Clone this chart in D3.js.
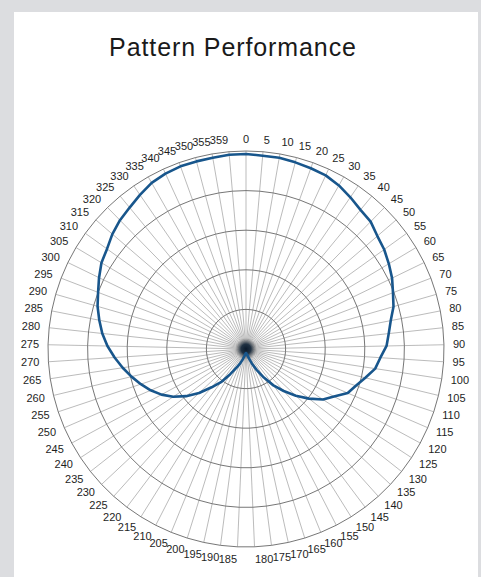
<!DOCTYPE html>
<html>
<head>
<meta charset="utf-8">
<script src="https://cdn.jsdelivr.net/npm/d3@7"></script>
<style>
  html, body { margin: 0; padding: 0; background: #dcdde0; }
  svg { display: block; }
</style>
</head>
<body>
<svg id="chart" width="481" height="577"></svg>
<script>
// category labels round the radar, as printed (note the odd 359 at the end)
var angleLabels = [0, 5, 10, 15, 20, 25, 30, 35, 40, 45, 50, 55, 60, 65, 70, 75, 80, 85,
  90, 95, 100, 105, 110, 115, 120, 125, 130, 135, 140, 145, 150, 155, 160, 165, 170, 175,
  180, 185, 190, 195, 200, 205, 210, 215, 220, 225, 230, 235, 240, 245, 250, 255, 260, 265,
  270, 275, 280, 285, 290, 295, 300, 305, 310, 315, 320, 325, 330, 335, 340, 345, 350, 355, 359]

// relative pattern value for each category
var pattern = [0.985, 0.98, 0.98, 0.975, 0.97, 0.965, 0.95, 0.93, 0.91, 0.90, 0.875, 0.86,
  0.84, 0.82, 0.795, 0.775, 0.745, 0.725, 0.71, 0.68, 0.66, 0.62, 0.585, 0.56,
  0.505, 0.465, 0.405, 0.345, 0.285, 0.23, 0.17, 0.12, 0.08, 0.05, 0.03, 0.025,
  0.02, 0.02, 0.025, 0.035, 0.055, 0.08, 0.105, 0.15, 0.21, 0.26, 0.325, 0.385,
  0.44, 0.485, 0.525, 0.56, 0.595, 0.63, 0.665, 0.70, 0.73, 0.755, 0.78, 0.80,
  0.825, 0.85, 0.865, 0.89, 0.91, 0.925, 0.945, 0.965, 0.975, 0.98, 0.98, 0.98, 0.985]

// value gridlines
var ringTicks = [0.2, 0.4, 0.6, 0.8, 1.0]

var width = 481, height = 577
var cx = 246, cy = 349, R = 198

var svg = d3.select('#chart')

// soft dark blob for the centre, where everything piles up
var grad = svg.append('defs').append('radialGradient').attr('id', 'blob')
grad.append('stop').attr('offset', '0%').attr('stop-color', '#0b1a2b').attr('stop-opacity', 1)
grad.append('stop').attr('offset', '45%').attr('stop-color', '#122538').attr('stop-opacity', 0.9)
grad.append('stop').attr('offset', '100%').attr('stop-color', '#555').attr('stop-opacity', 0)

// white sheet on the grey page
svg.append('rect')
  .attr('x', 14).attr('y', 12)
  .attr('width', 464).attr('height', height - 12)
  .attr('fill', '#ffffff')

svg.append('text')
  .attr('x', 233).attr('y', 56)
  .attr('text-anchor', 'middle')
  .attr('font-family', 'Liberation Sans, Arial, sans-serif')
  .attr('font-size', 25)
  .attr('letter-spacing', 0.9)
  .attr('fill', '#1a1a1a')
  .text('Pattern Performance')

var angle = d3.scaleBand()
  .domain(d3.range(angleLabels.length))
  .range([0, 2 * Math.PI])
  .paddingInner(0).paddingOuter(0)

var r = d3.scaleLinear().domain([0, 1]).range([0, R])

var g = svg.append('g').attr('transform', 'translate(' + cx + ',' + cy + ')')

// spokes
g.selectAll('line.spoke')
  .data(d3.range(angleLabels.length))
  .enter().append('line')
  .attr('class', 'spoke')
  .attr('x1', 0).attr('y1', 0)
  .attr('x2', function (d) { return r(1) * Math.sin(angle(d)) })
  .attr('y2', function (d) { return -r(1) * Math.cos(angle(d)) })
  .attr('stroke', '#9e9e9e')
  .attr('stroke-width', 0.7)

// ring polygons, one per value tick
var ringLine = d3.lineRadial()
  .angle(function (d) { return angle(d[0]) })
  .radius(function (d) { return r(d[1]) })
  .curve(d3.curveLinearClosed)

g.selectAll('path.ring')
  .data(ringTicks)
  .enter().append('path')
  .attr('class', 'ring')
  .attr('d', function (t) {
    return ringLine(d3.range(angleLabels.length).map(function (i) { return [i, t] }))
  })
  .attr('fill', 'none')
  .attr('stroke', '#666')
  .attr('stroke-width', 0.9)

// category labels
g.selectAll('text.lab')
  .data(angleLabels)
  .enter().append('text')
  .attr('class', 'lab')
  .attr('x', function (d, i) { return (R + 9) * Math.sin(angle(i)) })
  .attr('y', function (d, i) { return -(R + 9) * Math.cos(angle(i)) - Math.cos(angle(i)) * 3 })
  .attr('dy', '0.35em')
  .attr('text-anchor', function (d, i) {
    var s = Math.sin(angle(i))
    if (s > 0.02) return 'start'
    if (s < -0.02) return 'end'
    return 'middle'
  })
  .attr('font-family', 'Liberation Sans, Arial, sans-serif')
  .attr('font-size', 11)
  .attr('fill', '#1e1e1e')
  .text(function (d) { return d })

g.append('circle')
  .attr('r', 11)
  .attr('fill', 'url(#blob)')

// the pattern trace
var trace = d3.lineRadial()
  .angle(function (d, i) { return angle(i) })
  .radius(function (d) { return r(d) })
  .curve(d3.curveLinearClosed)

g.append('path')
  .datum(pattern)
  .attr('d', trace)
  .attr('fill', 'none')
  .attr('stroke', '#18568c')
  .attr('stroke-width', 2.6)
  .attr('stroke-linejoin', 'round')
</script>
</body>
</html>
